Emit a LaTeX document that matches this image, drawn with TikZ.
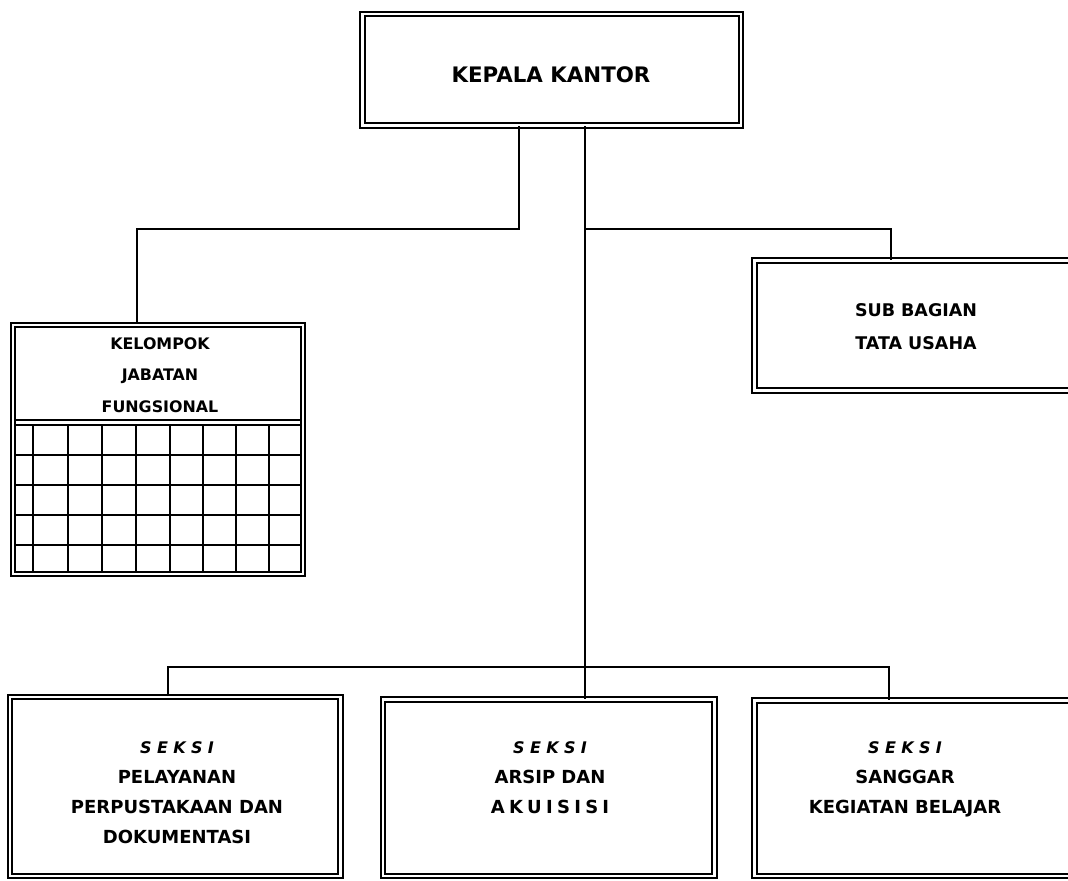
\documentclass[tikz,border=0pt]{standalone}
\usepackage{fontspec}
\setmainfont{DejaVu Sans}
\usetikzlibrary{fit}
\newcommand{\gapS}{\hspace{4pt}}
\newcommand{\gapA}{\hspace{3.2pt}}
\newcommand{\seksihead}{{\itshape\fontsize{12}{12}\selectfont S\gapS E\gapS K\gapS S\gapS I}}
\begin{document}
\begin{tikzpicture}[x=0.75pt,y=-0.75pt,
  frame/.style={draw, line width=1.4pt, double, double distance=2.2pt, inner sep=0pt},
  wire/.style={line width=1.9pt},
  gridline/.style={line width=1.7pt},
  lbl/.style={inner sep=0pt, align=center, font=\bfseries},
  big/.style={lbl, font=\bfseries\fontsize{16}{20}\selectfont},
  mid/.style={lbl, font=\bfseries\fontsize{13.1}{25}\selectfont},
  small/.style={lbl, font=\bfseries\fontsize{11.9}{23.6}\selectfont},
  sect/.style={lbl, anchor=north, font=\bfseries\fontsize{13.5}{22.5}\selectfont}]
\fill[white] (0,0) rectangle (1068,881);
\useasboundingbox (0,0) rectangle (1068,881);
\clip (0,0) rectangle (1068,881);

% boxes
\node[frame, fit={(362.5,14) (741,125.5)}] (kepala) {};
\node[frame, fit={(13,325) (303,574)}] (kelompok) {};
\node[frame, fit={(754.5,260.5) (1085,390.5)}] (subbag) {};
\node[frame, fit={(10,697) (340.5,876)}] (seksi1) {};
\node[frame, fit={(383,699.5) (714.5,876)}] (seksi2) {};
\node[frame, fit={(754.5,700.5) (1085,876)}] (seksi3) {};

% header divider and grid of the functional group
\draw[gridline] (15,420) -- (301,420);
\draw[gridline] (15,425) -- (301,425);
\foreach \y in {455,485,515,545}
  \draw[gridline] (15,\y) -- (301,\y);
\foreach \x in {33,68,102,136,170,203,236,269}
  \draw[gridline] (\x,425) -- (\x,572);

% labels
\node[big] (tkepala) at (551,75) {KEPALA KANTOR};
\node[small] (tkelompok) at (160,375) {KELOMPOK\\JABATAN\\FUNGSIONAL};
\node[mid] (tsubbag) at (916,326.5) {SUB BAGIAN\\TATA USAHA};
\node[sect] (tseksi1) at (177,741) {\seksihead\\PELAYANAN\\PERPUSTAKAAN DAN\\DOKUMENTASI};
\node[sect] (tseksi2) at (550,741) {\seksihead\\ARSIP DAN\\A\gapA K\gapA U\gapA I\gapA S\gapA I\gapA S\gapA I};
\node[sect] (tseksi3) at (905,741) {\seksihead\\SANGGAR\\KEGIATAN BELAJAR};

% connectors
\coordinate (kl) at (519,229);
\coordinate (kj) at (137,229);
\coordinate (spine) at (585,229);
\coordinate (sj) at (891,229);
\coordinate (b1) at (168,667);
\coordinate (b3) at (889,667);
\draw[wire] (kepala.south -| kl) -- (kl) -- (kj) -- (kj |- kelompok.north);
\draw[wire] (kepala.south -| spine) -- (seksi2.north -| spine);
\draw[wire] (spine) -- (sj) -- (sj |- subbag.north);
\draw[wire] (b1 |- seksi1.north) -- (b1) -- (b3) -- (b3 |- seksi3.north);
\end{tikzpicture}
\end{document}
